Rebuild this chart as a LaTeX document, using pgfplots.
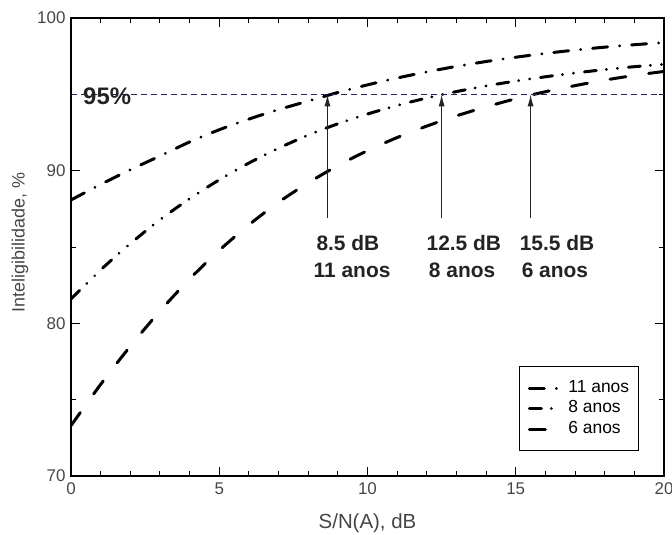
\documentclass[border=0pt]{standalone}
\usepackage{pgfplots}
\pgfplotsset{compat=1.18}
\usepackage{pgfplotstable}
\usepackage{fontspec}
\setmainfont{Liberation Sans}
\usetikzlibrary{arrows.meta}

\definecolor{ticktext}{RGB}{70,70,70}
\definecolor{refline}{RGB}{35,35,110}
\definecolor{annot}{RGB}{35,35,35}

% Inteligibilidade (%) vs S/N(A) (dB)
\pgfplotstableread{
x y
0 88.08
1 89.10
2 90.06
3 90.96
4 91.88
5 92.68
6 93.38
7 94.00
8 94.56
9 95.12
10 95.62
11 96.07
12 96.47
13 96.83
14 97.15
15 97.43
16 97.68
17 97.90
18 98.09
19 98.25
20 98.39
}\onzeanos

\pgfplotstableread{
x y
0 81.60
1 83.50
2 85.22
3 86.78
4 88.16
5 89.40
6 90.50
7 91.47
8 92.33
9 93.07
10 93.71
11 94.27
12 94.76
13 95.18
14 95.55
15 95.87
16 96.15
17 96.40
18 96.62
19 96.81
20 96.97
}\oitoanos

\pgfplotstableread{
x y
0 73.30
1 76.00
2 78.50
3 80.80
4 82.90
5 84.78
6 86.45
7 87.93
8 89.20
9 90.33
10 91.31
11 92.17
12 92.92
13 93.59
14 94.18
15 94.71
16 95.17
17 95.57
18 95.93
19 96.24
20 96.50
}\seisanos

\begin{document}
\begin{tikzpicture}
\begin{axis}[
  scale only axis,
  width=593bp, height=458bp,
  xmin=0, xmax=20, ymin=70, ymax=100,
  xtick={0,5,10,15,20}, ytick={70,80,90,100},
  minor x tick num=4, minor y tick num=1,
  major tick length=9bp, minor tick length=5bp,
  tick style={black, line width=0.9bp},
  axis line style={black, line width=1.1bp},
  tick label style={font=\fontsize{17}{20}\selectfont, text=ticktext},
  /pgf/number format/assume math mode=true,
  xticklabel style={yshift=-3bp},
  yticklabel style={xshift=-2bp},
  xlabel={S/N(A), dB},
  ylabel={Inteligibilidade, \%},
  xlabel style={font=\fontsize{20.5}{23}\selectfont, text=ticktext,
    at={(axis description cs:0.5,-0.1026)}, anchor=center},
  ylabel style={font=\fontsize{18}{21}\selectfont, text=ticktext,
    at={(axis description cs:-0.086,0.51)}, anchor=center},
  legend style={at={(0.958,0.055)}, anchor=south east, draw=black,
    line width=0.9bp, font=\fontsize{17.5}{19}\selectfont,
    inner xsep=8bp, inner ysep=12bp, row sep=2bp,
    nodes={inner sep=1.5bp, text height=12bp, text depth=3.5bp},
    cells={anchor=west}},
  legend image code/.code={\draw[#1] (0bp,0bp) -- (32bp,0bp);
    \path (36bp,0bp);},
]
\coordinate (sw) at (rel axis cs:0,0);
\coordinate (ne) at (rel axis cs:1,1);

\addplot[black, line width=3bp, line cap=round, smooth,
  dash pattern=on 15bp off 12bp on 0.1bp off 12bp] table {\onzeanos};
\addlegendentry{11 anos}
\addplot[black, line width=3bp, line cap=round, smooth,
  dash pattern=on 12bp off 10bp on 0.1bp off 11bp on 0.1bp off 11bp] table {\oitoanos};
\addlegendentry{8 anos}
\addplot[black, line width=3bp, line cap=round, smooth,
  dash pattern=on 16bp off 23bp] table {\seisanos};
\addlegendentry{6 anos}

\addplot[refline, line width=1bp, dash pattern=on 6bp off 4bp, forget plot]
  coordinates {(0,95) (20,95)};

\node[font=\bfseries\fontsize{24}{27}\selectfont, text=annot]
  at (axis cs:1.22,94.85) {95\%};

\draw[annot, line width=1.2bp, -{Latex[length=12bp,width=6bp]}]
  (axis cs:8.65,86.9) -- (axis cs:8.65,95);
\draw[annot, line width=1.2bp, -{Latex[length=12bp,width=6bp]}]
  (axis cs:12.5,86.9) -- (axis cs:12.5,95);
\draw[annot, line width=1.2bp, -{Latex[length=12bp,width=6bp]}]
  (axis cs:15.5,86.9) -- (axis cs:15.5,95);

\node[font=\bfseries\fontsize{21}{24}\selectfont, text=annot, anchor=base]
  at (axis cs:9.34,84.74) {8.5 dB};
\node[font=\bfseries\fontsize{21}{24}\selectfont, text=annot, anchor=base]
  at (axis cs:9.48,82.97) {11 anos};
\node[font=\bfseries\fontsize{21}{24}\selectfont, text=annot, anchor=base]
  at (axis cs:13.25,84.74) {12.5 dB};
\node[font=\bfseries\fontsize{21}{24}\selectfont, text=annot, anchor=base]
  at (axis cs:13.19,82.97) {8 anos};
\node[font=\bfseries\fontsize{21}{24}\selectfont, text=annot, anchor=base]
  at (axis cs:16.39,84.74) {15.5 dB};
\node[font=\bfseries\fontsize{21}{24}\selectfont, text=annot, anchor=base]
  at (axis cs:16.32,82.97) {6 anos};
\end{axis}
\pgfresetboundingbox
\path ([shift={(-71bp,-59bp)}]sw) rectangle ([shift={(8bp,18bp)}]ne);
\end{tikzpicture}
\end{document}
